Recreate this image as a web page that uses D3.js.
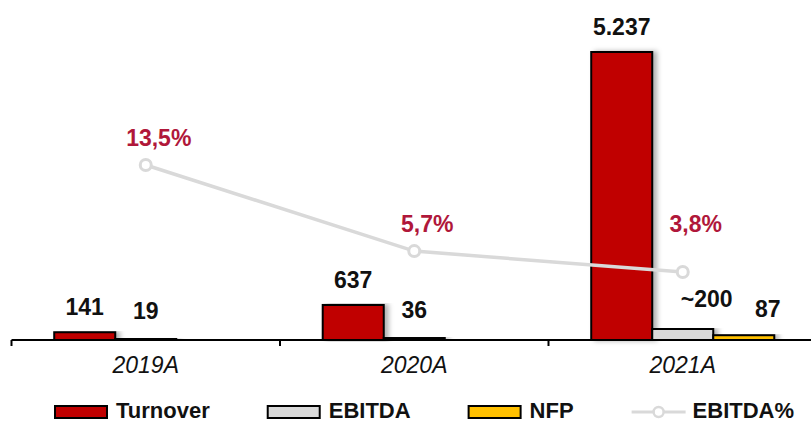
<!DOCTYPE html>
<html>
<head>
<meta charset="utf-8">
<script src="https://cdn.jsdelivr.net/npm/d3@7"></script>
<style>
  html, body { margin: 0; padding: 0; background: #fff; }
  svg { display: block; font-family: "Liberation Sans", Arial, sans-serif; }
</style>
</head>
<body>
<svg id="chart" width="811" height="423"></svg>
<script>
// Yearly figures
const years = ["2019A", "2020A", "2021A"];
const seriesNames = ["Turnover", "EBITDA", "NFP"];
const turnover = [141, 637, 5237];
const ebitda = [19, 36, 200];
const nfp = [null, null, 87];
const ebitdaPct = [13.5, 5.7, 3.8];

// Displayed value labels
const turnoverLabels = ["141", "637", "5.237"];
const ebitdaLabels = ["19", "36", "~200"];
const nfpLabels = [null, null, "87"];
const pctLabels = ["13,5%", "5,7%", "3,8%"];

const colors = { Turnover: "#c00000", EBITDA: "#d9d9d9", NFP: "#ffc000" };
const lineColor = "#d9d9d9";
const pctColor = "#b0173a";
const fontSize = 23;

const svg = d3.select("#chart");

const defs = svg.append("defs");
const shadow = defs.append("filter").attr("id", "barShadow")
  .attr("x", "-20%").attr("y", "-5%").attr("width", "160%").attr("height", "110%");
shadow.append("feDropShadow")
  .attr("dx", 4).attr("dy", 0).attr("stdDeviation", 2.5)
  .attr("flood-color", "#000").attr("flood-opacity", 0.3);

const baseY = 340;
const x0 = d3.scaleBand().domain(years).range([11.5, 817]).padding(0);
const x1 = d3.scaleBand().domain(seriesNames).range([0, x0.bandwidth()])
  .paddingInner(0).paddingOuter(0.7);
const y = d3.scaleLinear().domain([0, 5237]).range([baseY, 52]);
const y2 = d3.scaleLinear().domain([0, 13.5]).range([314, 165]);

const rows = years.map((yr, i) => ({
  year: yr,
  bars: [
    { key: "Turnover", value: turnover[i], label: turnoverLabels[i] },
    { key: "EBITDA", value: ebitda[i], label: ebitdaLabels[i] },
    { key: "NFP", value: nfp[i], label: nfpLabels[i] }
  ].filter(b => b.value != null)
}));

// Bars
const groups = svg.append("g").selectAll("g").data(rows).join("g")
  .attr("transform", d => `translate(${x0(d.year)},0)`);

groups.selectAll("rect").data(d => d.bars).join("rect")
  .attr("x", d => x1(d.key))
  .attr("y", d => y(d.value))
  .attr("width", x1.bandwidth())
  .attr("height", d => baseY - y(d.value))
  .attr("fill", d => colors[d.key])
  .attr("stroke", "#000")
  .attr("stroke-width", 2)
  .attr("filter", "url(#barShadow)");

// Bar value labels (the two small 2021A labels sit a little to the right)
const labelShift = (yr, key) => (yr === "2021A" && key !== "Turnover") ? 24 : 0;
const labelLift = (yr, key) => {
  if (yr === "2021A" && key === "EBITDA") return 22;
  if (yr === "2021A" && key === "NFP") return 18;
  if (key === "EBITDA") return 20;
  return 17;
};
groups.each(function (row) {
  d3.select(this).selectAll("text.val").data(row.bars.filter(b => b.label)).join("text")
    .attr("class", "val")
    .attr("x", d => x1(d.key) + x1.bandwidth() / 2 + labelShift(row.year, d.key))
    .attr("y", d => y(d.value) - labelLift(row.year, d.key))
    .attr("text-anchor", "middle")
    .attr("font-size", fontSize)
    .attr("font-weight", "bold")
    .attr("fill", "#111")
    .text(d => d.label);
});

// Category axis
const axisG = svg.append("g").attr("transform", `translate(0,${baseY})`);
axisG.append("line").attr("x1", 11.5).attr("x2", 811).attr("y1", 0).attr("y2", 0)
  .attr("stroke", "#000").attr("stroke-width", 2);
axisG.selectAll("line.tick").data(years).join("line")
  .attr("class", "tick")
  .attr("x1", d => x0(d)).attr("x2", d => x0(d))
  .attr("y1", 0).attr("y2", 6)
  .attr("stroke", "#000").attr("stroke-width", 2);
axisG.selectAll("text.cat").data(years).join("text")
  .attr("class", "cat")
  .attr("x", d => x0(d) + x0.bandwidth() / 2)
  .attr("y", 33)
  .attr("text-anchor", "middle")
  .attr("font-size", fontSize)
  .attr("font-style", "italic")
  .attr("fill", "#111")
  .text(d => d);

// EBITDA% line
const pts = years.map((yr, i) => ({ year: yr, v: ebitdaPct[i], label: pctLabels[i] }));
const cx = d => x0(d.year) + x0.bandwidth() / 2;
svg.append("path")
  .datum(pts)
  .attr("d", d3.line().x(cx).y(d => y2(d.v)))
  .attr("fill", "none")
  .attr("stroke", lineColor)
  .attr("stroke-width", 3.5);
svg.append("g").selectAll("circle").data(pts).join("circle")
  .attr("cx", cx).attr("cy", d => y2(d.v)).attr("r", 5.5)
  .attr("fill", "#fff").attr("stroke", lineColor).attr("stroke-width", 3);
svg.append("g").selectAll("text").data(pts).join("text")
  .attr("x", d => cx(d) + 13)
  .attr("y", d => y2(d.v) - (d.year === "2021A" ? 40 : 19))
  .attr("text-anchor", "middle")
  .attr("font-size", fontSize)
  .attr("font-weight", "bold")
  .attr("fill", pctColor)
  .text(d => d.label);

// Legend
const legendItems = [
  { name: "Turnover", type: "bar" },
  { name: "EBITDA", type: "bar" },
  { name: "NFP", type: "bar" },
  { name: "EBITDA%", type: "line" }
];
const legend = svg.append("g");
let lx = 55;
const ly = 412;
legendItems.forEach(item => {
  const g = legend.append("g");
  if (item.type === "bar") {
    g.append("rect").attr("x", lx).attr("y", ly - 6).attr("width", 52).attr("height", 12)
      .attr("fill", colors[item.name]).attr("stroke", "#000").attr("stroke-width", 2);
  } else {
    g.append("line").attr("x1", lx).attr("x2", lx + 54).attr("y1", ly).attr("y2", ly)
      .attr("stroke", lineColor).attr("stroke-width", 3);
    g.append("circle").attr("cx", lx + 27).attr("cy", ly).attr("r", 5)
      .attr("fill", "#fff").attr("stroke", lineColor).attr("stroke-width", 2.5);
  }
  const t = g.append("text").attr("x", lx + 61).attr("y", ly + 6)
    .attr("font-size", 22).attr("font-weight", "bold").attr("fill", "#111")
    .text(item.name);
  lx += 61 + t.node().getComputedTextLength() + 58;
});
</script>
</body>
</html>
